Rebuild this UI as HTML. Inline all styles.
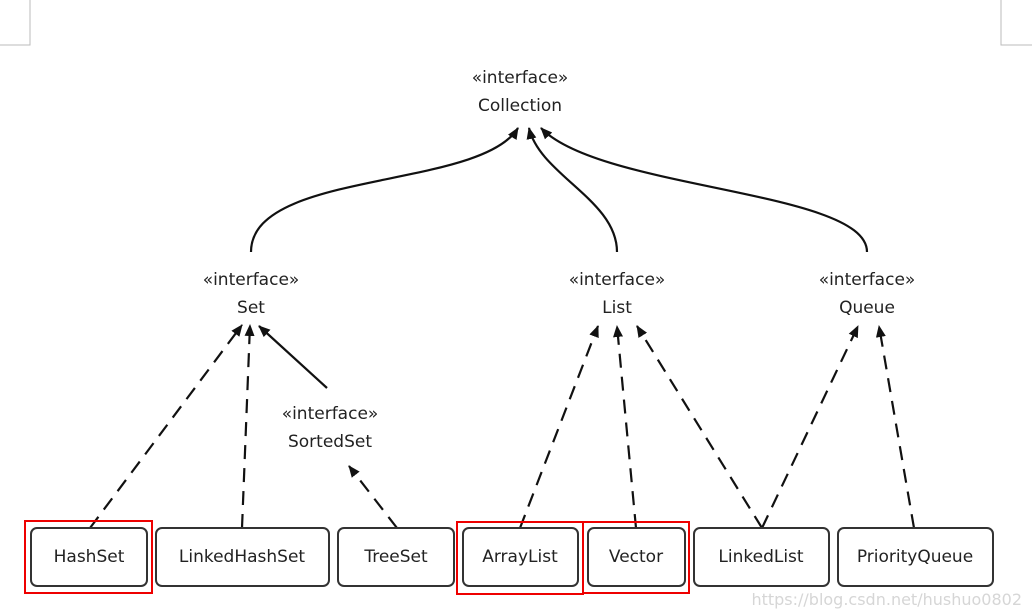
<!DOCTYPE html>
<html><head><meta charset="utf-8"><style>
html,body{margin:0;padding:0;background:#fff;}
svg{display:block;}
text{font-family:"DejaVu Sans","Liberation Sans",sans-serif;fill:#222;}
</style></head><body>
<svg width="1032" height="615" viewBox="0 0 1032 615" xmlns="http://www.w3.org/2000/svg">
<defs>
<marker id="a" markerWidth="12" markerHeight="12" refX="11" refY="6" orient="auto" markerUnits="userSpaceOnUse">
<path d="M0,1 L12,6 L0,11 z" fill="#111"/>
</marker>
</defs>
<!-- corner marks -->
<path d="M30,0 V45 H0" fill="none" stroke="#bbb" stroke-width="1"/>
<path d="M1001,0 V45 H1032" fill="none" stroke="#bbb" stroke-width="1"/>

<!-- labels -->
<g font-size="17" text-anchor="middle">
<text x="520" y="83">«interface»</text>
<text x="520" y="111">Collection</text>
<text x="251" y="285">«interface»</text>
<text x="251" y="313">Set</text>
<text x="617" y="285">«interface»</text>
<text x="617" y="313">List</text>
<text x="867" y="285">«interface»</text>
<text x="867" y="313">Queue</text>
<text x="330" y="419">«interface»</text>
<text x="330" y="447">SortedSet</text>
</g>

<g fill="none" stroke="#111" stroke-width="2.2">
<!-- solid curves to Collection -->
<path d="M251,252 C251,170 480,190 518,128" marker-end="url(#a)"/>
<path d="M617,252 C617,200 540,175 529,128" marker-end="url(#a)"/>
<path d="M867,252 C867,190 600,190 541,128" marker-end="url(#a)"/>
<!-- SortedSet to Set -->
<path d="M327,388 L259,326" marker-end="url(#a)"/>
</g>
<g fill="none" stroke="#111" stroke-width="2.2" stroke-dasharray="14,9">
<path d="M90,528 L242,325" marker-end="url(#a)"/>
<path d="M242,528 L250,325" marker-end="url(#a)"/>
<path d="M397,528 L349,466" marker-end="url(#a)"/>
<path d="M520,528 L598,326" marker-end="url(#a)"/>
<path d="M636,528 L617,326" marker-end="url(#a)"/>
<path d="M762,528 L637,326" marker-end="url(#a)"/>
<path d="M762,528 L858,326" marker-end="url(#a)"/>
<path d="M914,528 L879,326" marker-end="url(#a)"/>
</g>

<!-- boxes -->
<g fill="#fff" stroke="#333" stroke-width="2">
<rect x="31" y="528" width="116" height="58" rx="6"/>
<rect x="156" y="528" width="173" height="58" rx="6"/>
<rect x="338" y="528" width="116" height="58" rx="6"/>
<rect x="463" y="528" width="115" height="58" rx="6"/>
<rect x="588" y="528" width="97" height="58" rx="6"/>
<rect x="694" y="528" width="135" height="58" rx="6"/>
<rect x="838" y="528" width="155" height="58" rx="6"/>
</g>
<g font-size="17" text-anchor="middle" font-family="Liberation Sans">
<text x="89" y="562">HashSet</text>
<text x="242" y="562">LinkedHashSet</text>
<text x="396" y="562">TreeSet</text>
<text x="520" y="562">ArrayList</text>
<text x="636" y="562">Vector</text>
<text x="761" y="562">LinkedList</text>
<text x="915" y="562">PriorityQueue</text>
</g>

<!-- red highlights -->
<g fill="none" stroke="#e00" stroke-width="2">
<rect x="25" y="521" width="127" height="72"/>
<rect x="457" y="522" width="126" height="72"/>
<rect x="583" y="522" width="106" height="71"/>
</g>

<text x="1022" y="605" font-size="16" text-anchor="end" style="fill:#d6d6d6" font-family="Liberation Sans">https://blog.csdn.net/hushuo0802</text>
</svg>
</body></html>
